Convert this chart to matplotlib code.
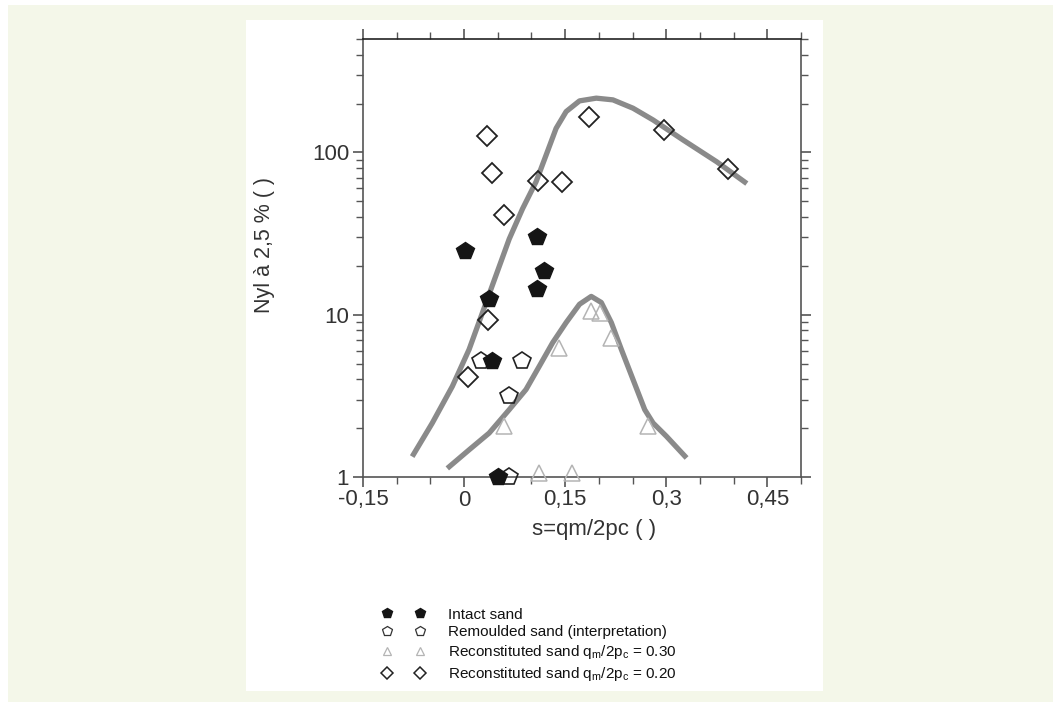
import matplotlib
matplotlib.use("Agg")
import matplotlib.pyplot as plt
from matplotlib.patches import Rectangle
from matplotlib.ticker import FixedLocator, LogLocator, NullFormatter, FixedFormatter
from matplotlib.lines import Line2D

plt.rcParams['font.family'] = ['Liberation Sans', 'DejaVu Sans']

# ---- data ----
intact_x = [0.001, 0.108, 0.118, 0.108, 0.037, 0.041, 0.051]
intact_y = [24.8, 30, 18.7, 14.5, 12.5, 5.2, 1.0]

remoulded_x = [0.025, 0.086, 0.066, 0.066]
remoulded_y = [5.2, 5.2, 3.14, 1.0]

recon30_x = [0.1887, 0.201, 0.2185, 0.1415, 0.0596, 0.273, 0.1107, 0.160]
recon30_y = [10.6, 10.3, 7.2, 6.26, 2.05, 2.05, 1.06, 1.06]

recon20_x = [0.0347, 0.0407, 0.109, 0.145, 0.0596, 0.185, 0.297, 0.392, 0.0362, 0.006]
recon20_y = [127, 75, 67, 66, 41, 165, 137, 79.6, 9.3, 4.12]

upper_x = [-0.0770, -0.0472, -0.0174, 0.00745, 0.0273, 0.0472, 0.0670, 0.0868,
           0.1068, 0.1217, 0.1366, 0.1515, 0.1713, 0.1962, 0.2209, 0.2507,
           0.2805, 0.3252, 0.3749, 0.4196]
upper_y = [1.336, 2.15, 3.62, 6.11, 10.3, 17.4, 29.3, 45.0, 65.9, 96.2, 140.8,
           178.6, 207.8, 216, 210.8, 187.3, 158.5, 119.2, 87.6, 64.3]

lower_x = [-0.0249, 0.00745, 0.0372, 0.0670, 0.0919, 0.1117, 0.1315, 0.1515,
           0.1713, 0.1887, 0.2036, 0.2185, 0.2334, 0.2507, 0.2681, 0.2805,
           0.3004, 0.3302]
lower_y = [1.13, 1.47, 1.865, 2.60, 3.46, 4.82, 6.73, 8.95, 11.6, 12.97, 11.9,
           8.95, 6.11, 3.99, 2.60, 2.15, 1.78, 1.31]

x_ticks = [-0.15, 0, 0.15, 0.3, 0.45]
x_tick_labels = ['-0,15', '0', '0,15', '0,3', '0,45']
x_minor_ticks = [-0.1, -0.05, 0.05, 0.1, 0.2, 0.25, 0.35, 0.4, 0.5]
y_ticks = [1, 10, 100]
y_tick_labels = ['1', '10', '100']

legend_labels = ['Intact sand',
                 'Remoulded sand (interpretation)',
                 r'Reconstituted sand q$_{\mathregular{m}}$/2p$_{\mathregular{c}}$ = 0.30',
                 r'Reconstituted sand q$_{\mathregular{m}}$/2p$_{\mathregular{c}}$ = 0.20']

# ---- figure ----
W, H = 1053, 702
fig = plt.figure(figsize=(W / 100, H / 100), dpi=100, facecolor='white')
fig.patches.append(Rectangle((8 / W, 0), 1 - 8 / W, 1 - 5 / H, transform=fig.transFigure,
                             facecolor='#f4f7e9', edgecolor='none', zorder=-10))
fig.patches.append(Rectangle((246 / W, 1 - 691 / H), (823 - 246) / W, (691 - 20) / H,
                             transform=fig.transFigure, facecolor='white',
                             edgecolor='none', zorder=-9))

ax = fig.add_axes([363 / W, 1 - 477 / H, (801 - 363) / W, (477 - 39) / H])
ax.set_facecolor('none')
ax.set_yscale('log')
ax.set_xlim(-0.15, 0.5)
ax.set_ylim(1, 500)

line_c = '#8a8a8a'
ax.plot(upper_x, upper_y, color=line_c, lw=3.8, solid_capstyle='butt',
        solid_joinstyle='round', zorder=2)
ax.plot(lower_x, lower_y, color=line_c, lw=3.8, solid_capstyle='butt',
        solid_joinstyle='round', zorder=2)

ax.plot(intact_x, intact_y, ls='none', marker='p', ms=13,
        mfc='#151515', mec='#151515', zorder=4, clip_on=False)
ax.plot(remoulded_x, remoulded_y, ls='none', marker='p', ms=13,
        mfc='none', mec='#222222', mew=1.2, zorder=3, clip_on=False)
ax.plot(recon30_x, recon30_y, ls='none', marker='^', ms=11,
        mfc='none', mec='#b4b4b4', mew=1.1, zorder=3, clip_on=False)
ax.plot(recon20_x, recon20_y, ls='none', marker='D', ms=10,
        mfc='none', mec='#222222', mew=1.3, zorder=3)

# ticks
ax.xaxis.set_major_locator(FixedLocator(x_ticks))
ax.xaxis.set_major_formatter(FixedFormatter(x_tick_labels))
ax.xaxis.set_minor_locator(FixedLocator(x_minor_ticks))
ax.yaxis.set_major_locator(FixedLocator(y_ticks))
ax.yaxis.set_major_formatter(FixedFormatter(y_tick_labels))
ax.yaxis.set_minor_locator(LogLocator(base=10, subs=[2, 3, 4, 5, 6, 7, 8, 9]))
ax.yaxis.set_minor_formatter(NullFormatter())

spine_c = '#555555'
for s in ax.spines.values():
    s.set_color(spine_c)
    s.set_linewidth(1.2)
ax.spines['top'].set_color('#222222')

ax.tick_params(which='both', direction='out', top=True, right=True, colors=spine_c,
               labelcolor='#333333', labelsize=16)
ax.tick_params(which='major', length=7, width=1.2)
ax.tick_params(which='minor', length=5, width=1.0)
ax.tick_params(axis='x', pad=2)
ax.tick_params(axis='y', pad=3)

ax.set_xlabel('s=qm/2pc ( )', fontsize=16, color='#333333', va='top')
ax.xaxis.set_label_coords((594 - 363) / 438, (477 - 519) / 438)
ax.set_ylabel('Nyl à 2,5 % ( )', fontsize=15.5, color='#333333')
ax.yaxis.set_label_coords((275 - 363) / 438, (477 - 245) / 438)

# legend proxies
hs = [Line2D([], [], ls='none', marker='p', ms=7, mfc='#151515', mec='#151515'),
      Line2D([], [], ls='none', marker='p', ms=7, mfc='none', mec='#333333', mew=0.9),
      Line2D([], [], ls='none', marker='^', ms=6, mfc='none', mec='#b4b4b4', mew=0.9),
      Line2D([], [], ls='none', marker='D', ms=6, mfc='none', mec='#222222', mew=1.1)]
fs = 11
leg = fig.legend(hs, legend_labels,
                 loc='upper left', bbox_to_anchor=(375 / W, 1 - 600 / H),
                 frameon=False, numpoints=2, fontsize=fs, handlelength=2.76,
                 handletextpad=1.53, labelspacing=0.25, borderpad=0,
                 labelcolor='#111111')

fig.savefig('out.png', dpi=100, facecolor=fig.get_facecolor())
